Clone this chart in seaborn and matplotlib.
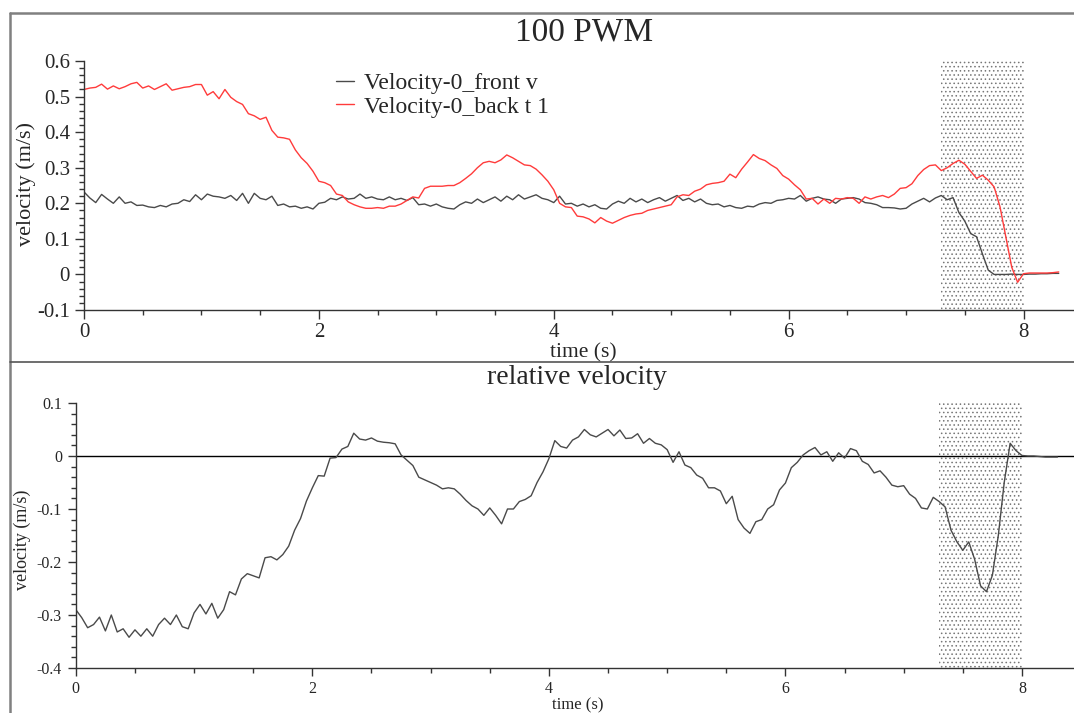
import numpy as np
import pandas as pd
import matplotlib
matplotlib.use("Agg")
import matplotlib.pyplot as plt
import seaborn as sns
from matplotlib.ticker import MultipleLocator, FuncFormatter
from matplotlib.lines import Line2D

# sample spacing of the logged velocities (s)
DT = 0.05

# front wheel velocity (m/s), one row = 0.5 s
FRONT_V = [
    0.232, 0.215, 0.202, 0.225, 0.212, 0.200, 0.218, 0.200, 0.204, 0.194,
    0.195, 0.190, 0.188, 0.194, 0.190, 0.198, 0.200, 0.210, 0.205, 0.224,
    0.210, 0.226, 0.220, 0.218, 0.214, 0.222, 0.208, 0.228, 0.200, 0.228,
    0.214, 0.210, 0.220, 0.194, 0.198, 0.190, 0.192, 0.186, 0.190, 0.184,
    0.200, 0.203, 0.214, 0.210, 0.218, 0.212, 0.214, 0.226, 0.214, 0.218,
    0.212, 0.210, 0.218, 0.210, 0.214, 0.208, 0.216, 0.196, 0.198, 0.192,
    0.198, 0.190, 0.186, 0.184, 0.196, 0.204, 0.200, 0.212, 0.202, 0.210,
    0.218, 0.206, 0.220, 0.210, 0.224, 0.212, 0.218, 0.224, 0.214, 0.210,
    0.202, 0.220, 0.198, 0.200, 0.192, 0.198, 0.190, 0.196, 0.186, 0.184,
    0.198, 0.206, 0.200, 0.214, 0.204, 0.212, 0.202, 0.210, 0.216, 0.206,
    0.214, 0.222, 0.208, 0.214, 0.204, 0.212, 0.200, 0.196, 0.198, 0.190,
    0.194, 0.188, 0.186, 0.192, 0.190, 0.198, 0.202, 0.200, 0.208, 0.210,
    0.214, 0.212, 0.222, 0.206, 0.214, 0.218, 0.212, 0.210, 0.200, 0.212,
    0.214, 0.216, 0.212, 0.202, 0.200, 0.196, 0.188, 0.188, 0.187, 0.184,
    0.186, 0.198, 0.206, 0.214, 0.204, 0.215, 0.222, 0.210, 0.216, 0.174,
    0.150, 0.115, 0.106, 0.058, 0.012, 0.000, 0.000, 0.000, 0.001, 0.000,
    0.000, 0.001, 0.001, 0.002, 0.002, 0.003, 0.003,
]

# back wheel velocity (m/s)
BACK_T1 = [
    0.520, 0.524, 0.526, 0.535, 0.521, 0.530, 0.522, 0.528, 0.536, 0.540,
    0.524, 0.530, 0.520, 0.528, 0.536, 0.518, 0.522, 0.526, 0.528, 0.534,
    0.534, 0.504, 0.514, 0.494, 0.520, 0.498, 0.486, 0.478, 0.452, 0.446,
    0.436, 0.442, 0.405, 0.386, 0.384, 0.380, 0.350, 0.328, 0.312, 0.290,
    0.262, 0.258, 0.250, 0.226, 0.222, 0.204, 0.196, 0.190, 0.186, 0.186,
    0.188, 0.186, 0.192, 0.192, 0.198, 0.208, 0.218, 0.215, 0.242, 0.248,
    0.248, 0.248, 0.250, 0.250, 0.258, 0.270, 0.283, 0.300, 0.314, 0.318,
    0.314, 0.322, 0.336, 0.328, 0.318, 0.308, 0.306, 0.296, 0.280, 0.262,
    0.238, 0.200, 0.190, 0.188, 0.164, 0.162, 0.156, 0.145, 0.160, 0.150,
    0.144, 0.152, 0.160, 0.166, 0.170, 0.172, 0.180, 0.184, 0.188, 0.192,
    0.196, 0.218, 0.224, 0.222, 0.234, 0.240, 0.252, 0.256, 0.258, 0.262,
    0.282, 0.272, 0.296, 0.316, 0.337, 0.326, 0.320, 0.308, 0.298, 0.278,
    0.268, 0.252, 0.238, 0.212, 0.214, 0.198, 0.212, 0.200, 0.214, 0.212,
    0.216, 0.214, 0.200, 0.218, 0.212, 0.218, 0.222, 0.216, 0.226, 0.242,
    0.244, 0.255, 0.278, 0.295, 0.306, 0.308, 0.292, 0.300, 0.312, 0.321,
    0.310, 0.290, 0.270, 0.279, 0.265, 0.246, 0.190, 0.105, 0.020, -0.022,
    0.002, 0.004, 0.004, 0.004, 0.004, 0.005, 0.007,
]

# relative velocity (m/s)
RELATIVE_V = [
    -0.290, -0.305, -0.324, -0.318, -0.304, -0.330, -0.300, -0.332, -0.326, -0.342,
    -0.328, -0.340, -0.326, -0.340, -0.318, -0.306, -0.318, -0.300, -0.322, -0.326,
    -0.296, -0.280, -0.298, -0.278, -0.306, -0.290, -0.256, -0.262, -0.232, -0.222,
    -0.226, -0.230, -0.192, -0.190, -0.196, -0.186, -0.170, -0.140, -0.118, -0.085,
    -0.060, -0.037, -0.038, -0.004, -0.003, 0.013, 0.018, 0.043, 0.032, 0.030,
    0.034, 0.028, 0.026, 0.025, 0.023, 0.002, -0.008, -0.018, -0.040, -0.045,
    -0.050, -0.055, -0.062, -0.060, -0.062, -0.072, -0.084, -0.094, -0.100, -0.112,
    -0.098, -0.112, -0.128, -0.100, -0.100, -0.086, -0.082, -0.075, -0.050, -0.030,
    -0.005, 0.029, 0.018, 0.015, 0.030, 0.036, 0.050, 0.040, 0.036, 0.043,
    0.050, 0.038, 0.049, 0.033, 0.034, 0.042, 0.024, 0.033, 0.024, 0.021,
    0.012, -0.012, 0.008, -0.017, -0.022, -0.036, -0.042, -0.060, -0.060, -0.066,
    -0.090, -0.076, -0.120, -0.136, -0.146, -0.124, -0.120, -0.100, -0.092, -0.064,
    -0.051, -0.022, -0.012, 0.002, 0.010, 0.016, 0.002, 0.008, -0.010, 0.006,
    -0.004, 0.014, 0.010, -0.010, -0.016, -0.032, -0.028, -0.040, -0.055, -0.058,
    -0.056, -0.072, -0.080, -0.098, -0.100, -0.078, -0.086, -0.096, -0.140, -0.162,
    -0.178, -0.162, -0.195, -0.245, -0.256, -0.225, -0.150, -0.050, 0.024, 0.010,
    0.001, 0.000, 0.000, -0.001, -0.002, -0.002, -0.002,
]

TIME = np.round(np.arange(len(FRONT_V)) * DT, 2)
SERIES = ["Velocity-0_front v", "Velocity-0_back t 1"]
SHADE_SPAN = (7.3, 8.0)

sns.set_style("ticks")
plt.rcParams["font.family"] = ["Liberation Serif", "DejaVu Serif"]
plt.rcParams["axes.unicode_minus"] = False
plt.rcParams["hatch.linewidth"] = 0.6

top_df = pd.DataFrame({"time": TIME, SERIES[0]: FRONT_V, SERIES[1]: BACK_T1})
top_long = top_df.melt(id_vars="time", var_name="series", value_name="velocity")
rel_df = pd.DataFrame({"time": TIME, "velocity": RELATIVE_V})

fig = plt.figure(figsize=(10.74, 7.13), dpi=100)
ax1 = fig.add_axes([0.0782, 0.5652, 0.9218, 0.3492])
ax2 = fig.add_axes([0.0706, 0.0631, 0.9294, 0.3717])

fmt = FuncFormatter(lambda v, p: "0" if abs(v) < 1e-9 else f"{round(v, 3):g}")


def style_axis(ax, ylim, xmax, tick_fs, maj_len, pad_x, pad_y):
    ax.set_xlim(0, xmax)
    ax.set_ylim(*ylim)
    ax.xaxis.set_major_locator(MultipleLocator(2))
    ax.xaxis.set_minor_locator(MultipleLocator(0.5))
    ax.yaxis.set_major_locator(MultipleLocator(0.1))
    ax.yaxis.set_minor_locator(MultipleLocator(0.02))
    ax.yaxis.set_major_formatter(fmt)
    ax.xaxis.set_major_formatter(fmt)
    for side in ["top", "right"]:
        ax.spines[side].set_visible(False)
    for side in ["left", "bottom"]:
        ax.spines[side].set_color("#333333")
        ax.spines[side].set_linewidth(1.0)
    ax.tick_params(axis="both", which="major", direction="out", length=maj_len,
                   width=1.0, color="#333333", labelsize=tick_fs)
    ax.tick_params(axis="both", which="minor", direction="out", length=3.5,
                   width=1.0, color="#333333")
    ax.tick_params(axis="x", which="major", pad=pad_x)
    ax.tick_params(axis="y", which="major", pad=pad_y)
    ax.set_xlabel("")
    ax.set_ylabel("")
    ax.axvspan(*SHADE_SPAN, facecolor="none", edgecolor="#777777",
               hatch="....", linewidth=0, zorder=0)


# top panel: wheel velocities
sns.lineplot(data=top_long, x="time", y="velocity", hue="series",
             palette={SERIES[0]: "#4a4a4a", SERIES[1]: "#ff3b3b"},
             estimator=None, sort=False, linewidth=1.0, ax=ax1)
style_axis(ax1, (-0.1, 0.6), 8.43, 15, 6.5, 3, 3.5)
handles, labels = ax1.get_legend_handles_labels()
ax1.legend(handles, labels, loc="upper left", bbox_to_anchor=(0.255, 0.955),
           frameon=False, fontsize=17, handlelength=0.75, handletextpad=0.4,
           labelspacing=0.1, borderpad=0, borderaxespad=0)

# bottom panel: relative velocity
sns.lineplot(data=rel_df, x="time", y="velocity", color="#4a4a4a",
             estimator=None, sort=False, linewidth=1.0, ax=ax2)
ax2.axhline(0, color="black", linewidth=1.0, zorder=1)
style_axis(ax2, (-0.4, 0.1), 8.44, 11.5, 6.0, 3.5, 4)

# titles and axis labels
fig.text(0.544, 0.955, "100 PWM", ha="center", va="center", fontsize=24)
fig.text(0.537, 0.470, "relative velocity", ha="center", va="center", fontsize=20)
fig.text(0.543, 0.505, "time (s)", ha="center", va="center", fontsize=15.5)
fig.text(0.538, 0.0, "time (s)", ha="center", va="bottom", fontsize=12)
fig.text(0.0247, 0.742, "velocity (m/s)", ha="center", va="center",
         rotation=90, fontsize=16)
fig.text(0.0205, 0.243, "velocity (m/s)", ha="center", va="center",
         rotation=90, fontsize=13)

# panel frame lines
fig.add_artist(Line2D([0.0093, 1.0], [0.9818, 0.9818], color="#808080", linewidth=1.8))
fig.add_artist(Line2D([0.0093, 0.0093], [0.0, 0.9818], color="#808080", linewidth=1.8))
fig.add_artist(Line2D([0.0093, 1.0], [0.4923, 0.4923], color="#555555", linewidth=1.2))

fig.savefig("out.png", dpi=100)
